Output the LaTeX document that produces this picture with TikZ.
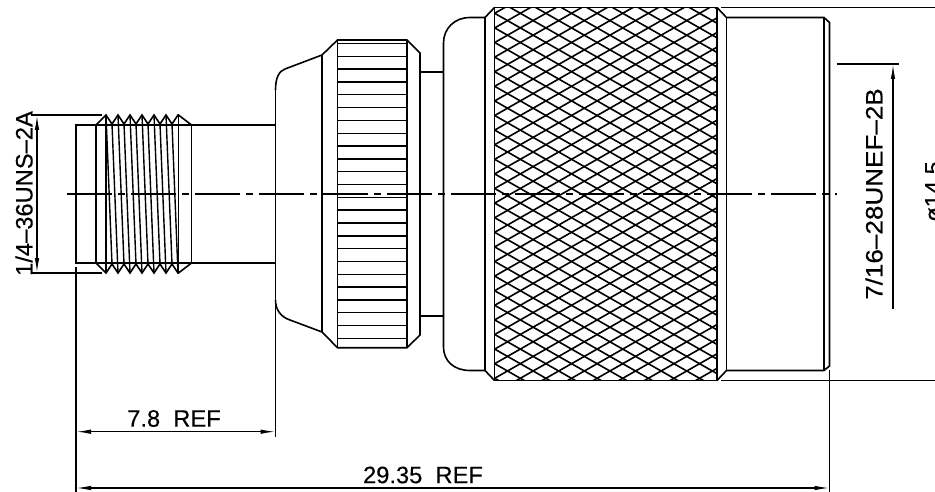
\documentclass[tikz,border=0pt]{standalone}
\usepackage{fontspec}
\setmainfont{Liberation Sans}
\newfontfamily\dimfont[FakeBold=0.3]{Liberation Sans}
\usetikzlibrary{arrows.meta}

\tikzset{
  outline/.style={line width=1.6pt, line join=miter},
  heavy/.style={line width=2.2pt},
  thinline/.style={line width=1.4pt},
  centerline/.style={line width=1.3pt, dash pattern=on 45pt off 6pt on 7pt off 6pt},
  dimline/.style={line width=1.3pt, {Latex[length=15pt,width=4.5pt]}-{Latex[length=15pt,width=4.5pt]}},
  dimtext/.style={inner sep=0pt, font=\dimfont\fontsize{23.7}{24}\selectfont},
}

\begin{document}
\begin{tikzpicture}[x=1pt, y=-1pt]

\useasboundingbox (0,0) rectangle (935,492);

% small thread end
\draw [outline] (191.5,125) -- (76,125) -- (76,263) -- (191.5,263);
\draw [outline] (96,125) -- (96,263);
\draw [outline] (191.5,125) -- (191.5,263);
\draw [outline] (191.5,125) -- (275.5,125);
\draw [outline] (191.5,263) -- (275.5,263);
\draw [outline] (96,125) -- (106,115) \foreach \p in {106,118,130,142,154,166} { -- ({\p+6},124) -- ({\p+12},115) } -- (178.5,115) -- (191.5,125);
\draw [outline] (96,263) -- (106,273) \foreach \p in {106,118,130,142,154,166} { -- ({\p+6},264) -- ({\p+12},273) } -- (178.5,273) -- (191.5,263);
\draw [outline] (106,115) -- (106,273);
\draw [outline] (178.5,115) -- (178.5,273);
\foreach \p in {106,118,130,142,154,166} {
  \draw [thinline] (\p,115) -- ({\p+6},264);
  \draw [thinline] ({\p+6},124) -- ({\p+12},273);
}

% first body
\draw [outline] (275.5,90) .. controls (275.5,78) and (279,71) .. (285,69) -- (322,55) -- (337.5,40) -- (407,40) -- (420,53) -- (420,335) -- (407,347.7) -- (337.5,347.7) -- (322,332) -- (290,320) .. controls (281,317) and (275.5,310) .. (275.5,300);
\draw [outline] (275.5,90) -- (275.5,437);
\draw [outline] (322,55) -- (322,332);
\draw [outline] (337.5,40) -- (337.5,347.7);
\draw [outline] (407,40) -- (407,347.7);
\foreach \k in {0,...,23} {
  \draw [thinline] (337.5,{43.5+12.82*\k}) -- (407,{43.5+12.82*\k});
}

% neck
\draw [outline] (420,72) -- (443.5,72);
\draw [outline] (420,316) -- (443.5,316);

% knurled body
\draw [outline] (485,17.5) -- (470,17.5) .. controls (454,17.5) and (443.5,29) .. (443.5,43) -- (443.5,347) .. controls (443.5,361) and (454,370.5) .. (470,370.5) -- (485,370.5);
\draw [heavy] (485,17.5) -- (485,370.5);
\draw [outline] (485,17.5) -- (494.5,7.5);
\draw [outline] (485,370.5) -- (494.5,380.5);
\begin{scope}
\clip (494.5,7.5) rectangle (717,380.5);
\foreach \k in {-10,...,36} {
  \draw [outline] (494.7,{13.3+14.6*\k}) -- (722.7,{13.3+14.6*\k+130});
  \draw [outline] (494.7,{13.3+14.6*\k}) -- (722.7,{13.3+14.6*\k-130});
}
\end{scope}
\draw [outline] (494.5,7.5) rectangle (717,380.5);

% large end
\draw [outline] (717,7.5) -- (726.5,17.5) -- (824,17.5) -- (829.5,22.5) -- (829.5,366) -- (824,370.5) -- (726.5,370.5) -- (717,380.5);
\draw [outline] (726.5,17.5) -- (726.5,370.5);
\draw [outline] (824,17.5) -- (824,370.5);

% axis
\draw [centerline] (67,194) -- (837,194);

% extension lines
\draw [thinline] (721,7.5) -- (935,7.5);
\draw [thinline] (721,380.5) -- (935,380.5);
\draw [thinline] (829.5,370) -- (829.5,492);
\draw [outline] (76,267) -- (76,492);
\draw [outline] (31,115) -- (102,115);
\draw [outline] (31,273) -- (102,273);
\draw [thinline] (836.5,64) -- (899,64);

% dimensions
\coordinate (threadtop) at (37,115);
\coordinate (threadbot) at (37,273);
\coordinate (nuttop) at (893,64);
\coordinate (nutbot) at (893,309);
\coordinate (shortl) at (76,431.7);
\coordinate (shortr) at (275.5,431.7);
\coordinate (longl) at (76,488);
\coordinate (longr) at (829.5,488);

\draw [dimline] (threadtop) -- (threadbot);
\draw [dimline, {Latex[length=15pt,width=4.5pt]}-] (nuttop) -- (nutbot);
\draw [dimline] (shortl) -- (shortr);
\draw [dimline] (longl) -- (longr);

\node [dimtext] (shortlbl) at (174,418.5) {7.8\ \ REF};
\node [dimtext] (longlbl) at (423,475) {29.35\ \ REF};
\node [dimtext, rotate=90] (threadlbl) at (24,193.5) {1/4\textendash 36UNS\textendash 2A};
\node [dimtext, rotate=90, xscale=1.1, transform shape] (nutlbl) at (874,194) {7/16\textendash 28UNEF\textendash 2B};
\node [dimtext, rotate=90] (dialbl) at (933.5,191.5) {ø14.5};

\end{tikzpicture}
\end{document}
